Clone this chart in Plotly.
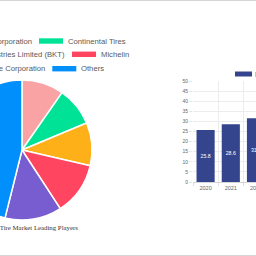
import plotly.graph_objects as go

# ---- data ----
players = ["Titan Tire Corporation", "Continental Tires",
           "Balkrishna Industries Limited (BKT)", "Michelin",
           "Bridgestone Corporation", "Others"]
shares = [9.7, 9.0, 9.9, 12.2, 13.1, 46.1]
slice_colors = ["#F9A3A4", "#00E396", "#FEB019", "#FF4560", "#775DD0", "#008FFB"]
years = ["2020", "2021", "2022"]
market_size = [25.8, 28.6, 31.6]
caption = "Agricultural Tire Market Leading Players"
bar_series = "Market Size (USD Billion)"

# ---- geometry helpers (figure is wider; left part shifted off-screen) ----
S = 50
W = 256 + S
H = 256


def px(x):
    return (x + S) / W


def py(y):
    return 1 - y / H


fig = go.Figure()

fig.add_trace(go.Pie(
    labels=players, values=shares, sort=False, direction="clockwise", rotation=0,
    marker=dict(colors=slice_colors, line=dict(color="white", width=1.5)),
    textinfo="none", showlegend=False,
    domain=dict(x=[px(-48), px(92)], y=[py(220), py(80)]),
))

bar_color = "#34458D"
fig.add_trace(go.Bar(
    x=years, y=market_size, width=0.72,
    marker=dict(color=bar_color, line=dict(width=0)),
    text=[f"{v}" for v in market_size], textposition="inside",
    insidetextanchor="middle",
    textfont=dict(color="white", size=5.2, family="Liberation Sans"),
    showlegend=False, cliponaxis=True,
))

shapes = []
annotations = []
legend_font = dict(family="Liberation Sans", size=7.7, color="#5a5a5a")

# pie legend rows (left item text visible partly, right item box + text)
row_y = [41, 54.3, 68.7]
box_x = [39, 72, 52.3]
for r in range(3):
    left_i, right_i = 2 * r, 2 * r + 1
    y = row_y[r]
    x0 = box_x[r]
    shapes.append(dict(type="rect", xref="paper", yref="paper",
                       x0=px(x0), x1=px(x0 + 24), y0=py(y + 2.7), y1=py(y - 2.7),
                       fillcolor=slice_colors[right_i], line=dict(width=0)))
    annotations.append(dict(xref="paper", yref="paper", x=px(x0 + 29), y=py(y),
                            xanchor="left", yanchor="middle", text=players[right_i],
                            showarrow=False, font=legend_font, borderpad=0, borderwidth=0))
    annotations.append(dict(xref="paper", yref="paper", x=px(x0 - 7.5), y=py(y),
                            xanchor="right", yanchor="middle", text=players[left_i],
                            showarrow=False, font=legend_font, borderpad=0, borderwidth=0))

# caption under pie
annotations.append(dict(xref="paper", yref="paper", x=px(77.5), y=py(227),
                        xanchor="right", yanchor="middle", text=caption, showarrow=False,
                        font=dict(family="Liberation Serif", size=6.8, color="#333333"),
                        borderpad=0, borderwidth=0))

# bar legend
shapes.append(dict(type="rect", xref="paper", yref="paper",
                   x0=px(235), x1=px(252), y0=py(76.5), y1=py(71.5),
                   fillcolor=bar_color, line=dict(width=0)))
annotations.append(dict(xref="paper", yref="paper", x=px(254.5), y=py(74),
                        xanchor="left", yanchor="middle", text=bar_series, showarrow=False,
                        font=legend_font, borderpad=0, borderwidth=0))

# page separator lines
for yy in (0.5, 255.5):
    shapes.append(dict(type="line", xref="paper", yref="paper",
                       x0=0, x1=1, y0=py(yy), y1=py(yy),
                       line=dict(color="#d4d4d4", width=1)))

grid = "#ececec"
fig.update_layout(
    width=W, height=H,
    margin=dict(l=0, r=0, t=0, b=0, autoexpand=False),
    paper_bgcolor="white", plot_bgcolor="white",
    showlegend=False,
    bargap=0.28,
    shapes=shapes, annotations=annotations,
    xaxis=dict(domain=[px(193), 1.0], type="category", range=[-0.5, 2.0],
               tickson="boundaries", showgrid=True, gridcolor=grid,
               ticks="outside", ticklen=3, tickcolor="#e0e0e0",
               showline=True, linecolor="#d6d6d6", linewidth=1,
               tickfont=dict(family="Liberation Sans", size=5.5, color="#666666"),
               automargin=False, fixedrange=True),
    yaxis=dict(domain=[py(182), py(81)], range=[0, 50], dtick=5,
               showgrid=True, gridcolor=grid, zeroline=False,
               ticks="outside", ticklen=3, tickcolor="#e8e8e8",
               tickfont=dict(family="Liberation Sans", size=5, color="#666666"),
               automargin=False, fixedrange=True),
)

fig.write_html("out.html", config={"displayModeBar": False},
               post_script="document.getElementById('{plot_id}').style.marginLeft='-%dpx';" % S)
